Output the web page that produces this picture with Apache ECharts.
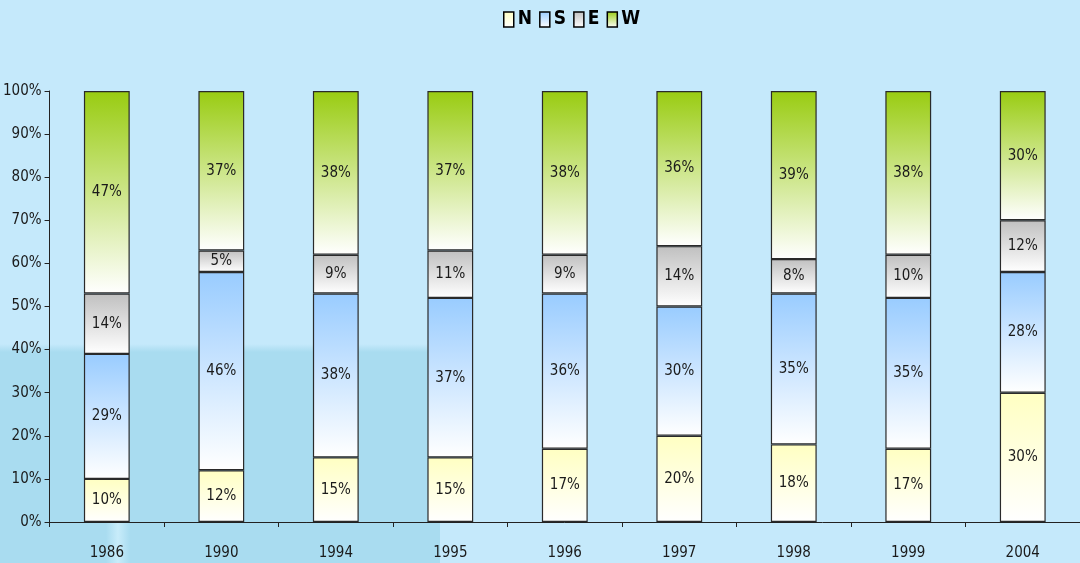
<!DOCTYPE html>
<html>
<head>
<meta charset="utf-8">
<script src="https://cdn.jsdelivr.net/npm/echarts@6/dist/echarts.min.js"></script>
<style>
  html, body { margin: 0; padding: 0; background: #c5e9fb; }
  #chart { width: 1080px; height: 563px; }
</style>
</head>
<body>
<div id="chart"></div>
<script>
// Share of each direction per year (percent, stacked to 100)
var years = ['1986', '1990', '1994', '1995', '1996', '1997', '1998', '1999', '2004'];
var valuesN = [10, 12, 15, 15, 17, 20, 18, 17, 30];
var valuesS = [29, 46, 38, 37, 36, 30, 35, 35, 28];
var valuesE = [14, 5, 9, 11, 9, 14, 8, 10, 12];
var valuesW = [47, 37, 38, 37, 38, 36, 39, 38, 30];
var yTicks = [0, 10, 20, 30, 40, 50, 60, 70, 80, 90, 100];

var FONT = '"DejaVu Sans Condensed", "Liberation Sans Narrow", "Liberation Sans", sans-serif';

function grad(top) {
  return new echarts.graphic.LinearGradient(0, 0, 0, 1, [
    { offset: 0, color: top },
    { offset: 1, color: '#ffffff' }
  ]);
}

function series(name, data, top) {
  return {
    name: name,
    type: 'bar',
    stack: 'total',
    barWidth: '40%',
    data: data,
    itemStyle: { color: grad(top), borderColor: '#2a2a2a', borderWidth: 1.2 },
    label: {
      show: true,
      position: 'inside',
      formatter: '{c}%',
      fontFamily: FONT,
      fontSize: 15,
      color: '#1a1a1a'
    },
    emphasis: { disabled: true }
  };
}

var chart = echarts.init(document.getElementById('chart'));
chart.setOption({
  backgroundColor: '#c5e9fb',
  animation: false,
  graphic: [
    {
      type: 'rect',
      z: -10,
      shape: { x: 0, y: 350, width: 440, height: 213 },
      style: { fill: '#a9dcf0' }
    },
    {
      type: 'rect',
      z: -9,
      shape: { x: 0, y: 344, width: 440, height: 8 },
      style: {
        fill: new echarts.graphic.LinearGradient(0, 0, 0, 1, [
          { offset: 0, color: '#c5e9fb' },
          { offset: 1, color: '#a9dcf0' }
        ])
      }
    },
    {
      type: 'rect',
      z: -8,
      shape: { x: 106, y: 523, width: 24, height: 40 },
      style: {
        fill: new echarts.graphic.LinearGradient(0, 0, 1, 0, [
          { offset: 0, color: '#a9dcf0' },
          { offset: 0.5, color: '#c8ecfa' },
          { offset: 1, color: '#a9dcf0' }
        ])
      }
    }
  ],
  legend: {
    top: 5,
    left: 498,
    icon: 'rect',
    itemWidth: 10,
    itemHeight: 15,
    itemGap: 7,
    itemStyle: { borderColor: '#000', borderWidth: 1.5 },
    textStyle: { fontFamily: FONT, fontSize: 19, fontWeight: 'bold', color: '#000', padding: [0, 0, 0, -1] },
    data: ['N', 'S', 'E', 'W'],
    selectedMode: false
  },
  grid: { left: 49, right: -4, top: 91, bottom: 41 },
  xAxis: {
    type: 'category',
    data: years,
    axisLine: { lineStyle: { color: '#222', width: 1 } },
    axisTick: { show: true, length: 5, lineStyle: { color: '#222' } },
    axisLabel: { fontFamily: FONT, fontSize: 15, color: '#1a1a1a', margin: 24 }
  },
  yAxis: {
    type: 'value',
    min: yTicks[0],
    max: yTicks[yTicks.length - 1],
    interval: 10,
    axisLine: { show: true, lineStyle: { color: '#222', width: 1 } },
    axisTick: { show: true, inside: false, length: 5, lineStyle: { color: '#222' } },
    splitLine: { show: false },
    axisLabel: { fontFamily: FONT, fontSize: 15, color: '#1a1a1a', margin: 8, formatter: '{value}%' }
  },
  series: [
    series('N', valuesN, '#ffffc2'),
    series('S', valuesS, '#99ccff'),
    series('E', valuesE, '#c0c0c0'),
    series('W', valuesW, '#99cc11')
  ]
});
</script>
</body>
</html>
